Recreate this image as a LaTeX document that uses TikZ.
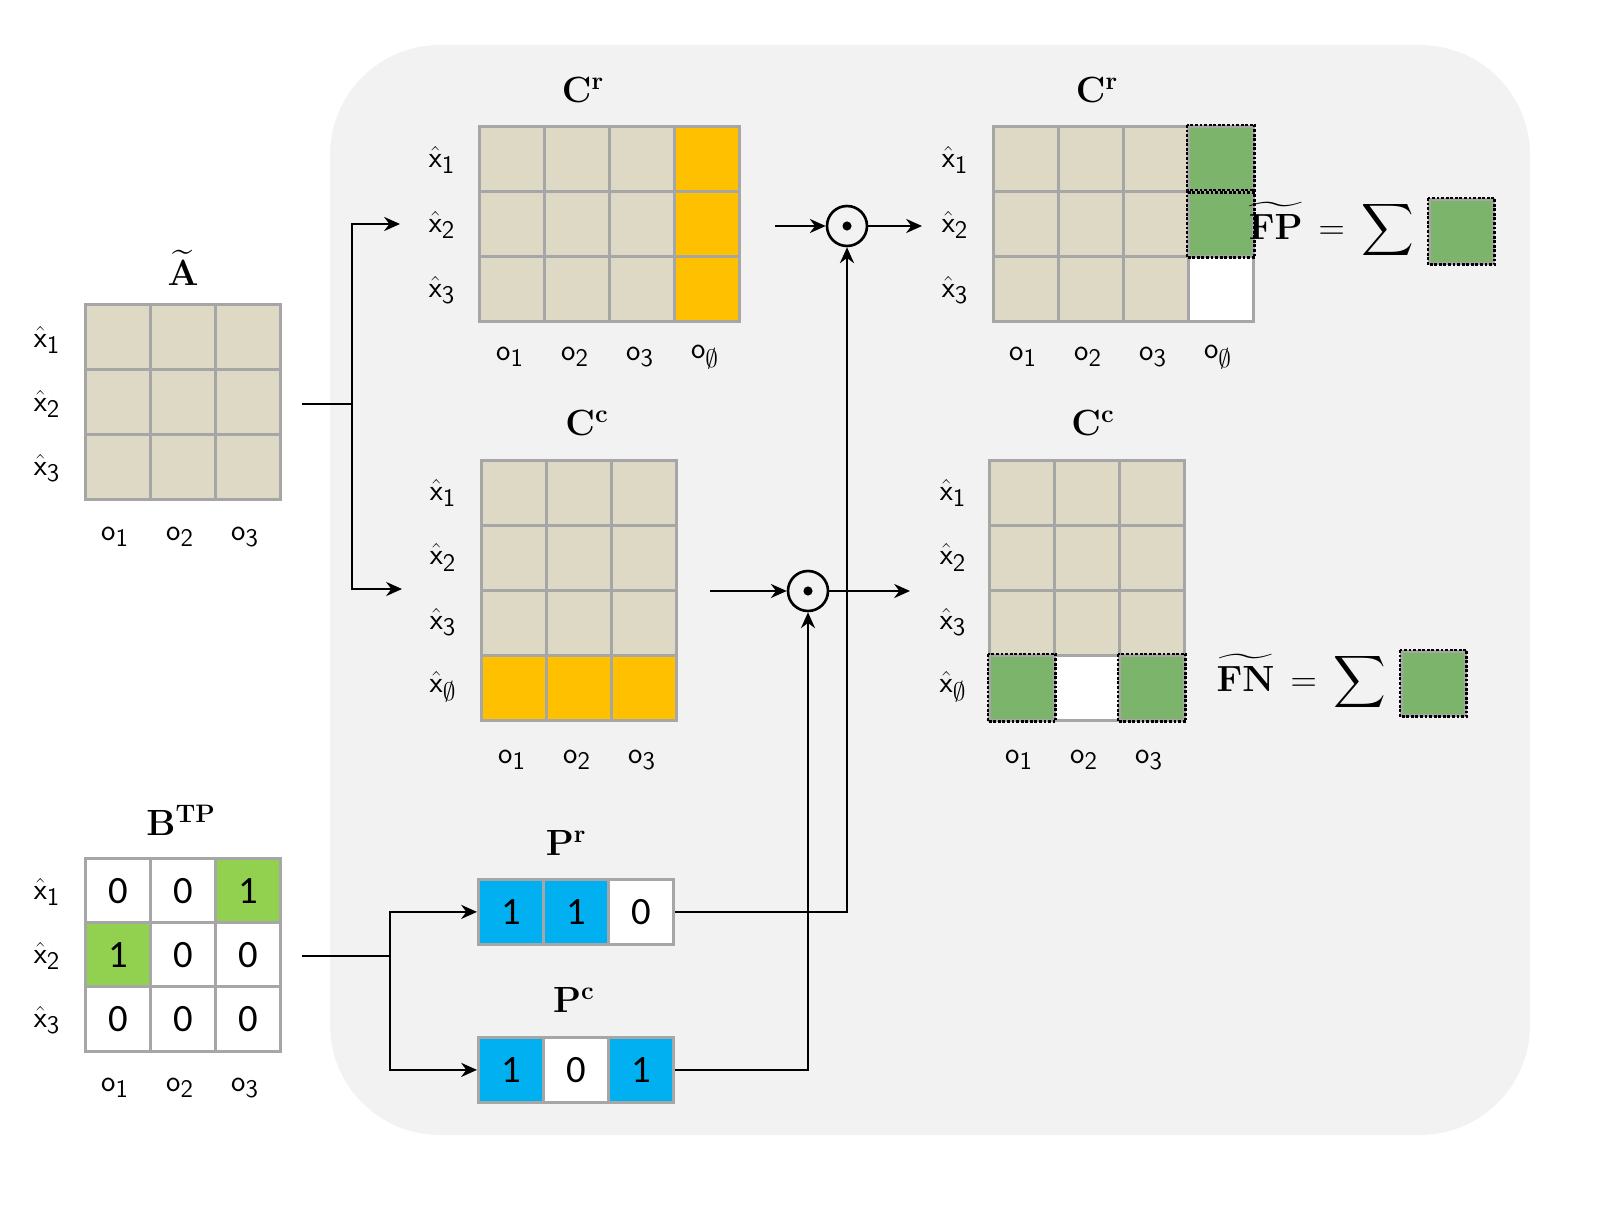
\documentclass[tikz,border=0pt]{standalone}
\usetikzlibrary{arrows.meta}
\usepackage{amsmath}
\usepackage[no-math]{fontspec}
\setmainfont{Carlito}
\definecolor{beige}{HTML}{DDD9C4}
\definecolor{org}{HTML}{FFC000}
\definecolor{grn}{HTML}{7DB46C}
\definecolor{lgrn}{HTML}{92D050}
\definecolor{blu}{HTML}{00B0F0}
\definecolor{gridc}{HTML}{A6A6A6}
\definecolor{bg}{HTML}{F2F2F2}
\newcommand{\xl}[1]{$\hat{\mathsf{x}}_{\mathsf{#1}}$}
\newcommand{\ol}[1]{$\mathsf{o}_{\mathsf{#1}}$}
\tikzset{
 cell/.style={draw=gridc,line width=1.6pt,minimum size=1.3cm,inner sep=0pt,font=\fontsize{22}{24}\selectfont,anchor=north west},
 dot/.style={draw=black,line width=1.6pt,densely dotted},
 lab/.style={font=\fontsize{19}{22}\selectfont},
 ttl/.style={font=\fontsize{21}{24}\selectfont},
 arr/.style={line width=1.3pt,-{Stealth[length=9pt,width=8pt]}},
 ln/.style={line width=1.3pt},
 od/.style={circle,draw,line width=1.5pt,minimum size=0.8cm,inner sep=0pt}
}
\newcommand{\cl}[5]{\node[cell,fill=#3] (#5) at (#1,#2) {#4};}
\begin{document}
\begin{tikzpicture}[x=0.02cm,y=-0.02cm]
\useasboundingbox (0,0) rectangle (1623,1213);
\fill[bg,rounded corners=2.2cm] (330,45) rectangle (1530,1135);
% A tilde
\foreach \r in {0,1,2}{\foreach \c in {0,1,2}{\cl{84+65*\c}{303+65*\r}{beige}{}{A\r\c}}}
\node[ttl] (At) at (183,268) {$\widetilde{\mathbf{A}}$};
\foreach \r/\t in {0/1,1/2,2/3}{\node[lab] (Ar\r) at (47,340+64*\r) {\xl{\t}};}
\foreach \c/\t in {0/1,1/2,2/3}{\node[lab] (Ac\c) at (115+65*\c,537) {\ol{\t}};}
% Cr left
\foreach \r in {0,1,2}{\foreach \c in {0,1,2}{\cl{478+65*\c}{125+65*\r}{beige}{}{R\r\c}}
 \cl{673}{125+65*\r}{org}{}{R\r3}}
\node[ttl] (Rt) at (583,90) {$\mathbf{C}^{\mathbf{r}}$};
\foreach \r/\t in {0/1,1/2,2/3}{\node[lab] (Rr\r) at (442,160+65*\r) {\xl{\t}};}
\foreach \c/\t in {0/1,1/2,2/3,3/\emptyset}{\node[lab] (Rc\c) at (510+65*\c,357) {\ol{\t}};}
% Cc left
\foreach \c in {0,1,2}{\foreach \r in {0,1,2}{\cl{480+65*\c}{459+65*\r}{beige}{}{C\r\c}}
 \cl{480+65*\c}{654}{org}{}{C3\c}}
\node[ttl] (Ct) at (587,423) {$\mathbf{C}^{\mathbf{c}}$};
\foreach \r/\t in {0/1,1/2,2/3,3/\emptyset}{\node[lab] (Cr\r) at (443,493+64.5*\r) {\xl{\t}};}
\foreach \c/\t in {0/1,1/2,2/3}{\node[lab] (Cc\c) at (512+65*\c,760) {\ol{\t}};}
% Cr right
\foreach \r in {0,1,2}{\foreach \c in {0,1,2}{\cl{992+65*\c}{125+65*\r}{beige}{}{S\r\c}}}
\cl{1187}{125}{grn}{}{S03}\cl{1187}{190}{grn}{}{S13}\cl{1187}{255}{white}{}{S23}
\draw[dot] (S03.north west) rectangle (S03.south east);
\draw[dot] (S13.north west) rectangle (S13.south east);
\node[ttl] (St) at (1097,90) {$\mathbf{C}^{\mathbf{r}}$};
\foreach \r/\t in {0/1,1/2,2/3}{\node[lab] (Sr\r) at (955,160+65*\r) {\xl{\t}};}
\foreach \c/\t in {0/1,1/2,2/3,3/\emptyset}{\node[lab] (Sc\c) at (1023+65*\c,357) {\ol{\t}};}
% Cc right
\foreach \c in {0,1,2}{\foreach \r in {0,1,2}{\cl{988+65*\c}{459+65*\r}{beige}{}{T\r\c}}}
\cl{988}{654}{grn}{}{T30}\cl{1053}{654}{white}{}{T31}\cl{1118}{654}{grn}{}{T32}
\draw[dot] (T30.north west) rectangle (T30.south east);
\draw[dot] (T32.north west) rectangle (T32.south east);
\node[ttl] (Tt) at (1093,423) {$\mathbf{C}^{\mathbf{c}}$};
\foreach \r/\t in {0/1,1/2,2/3,3/\emptyset}{\node[lab] (Tr\r) at (953,493+64.5*\r) {\xl{\t}};}
\foreach \c/\t in {0/1,1/2,2/3}{\node[lab] (Tc\c) at (1019+65*\c,760) {\ol{\t}};}
% FP FN
\node[ttl,anchor=east] (FP) at (1420,230) {$\widetilde{\mathbf{FP}}\,=\,\displaystyle\sum$};
\node[cell,fill=grn,minimum size=1.28cm] (FPs) at (1428,198) {};
\draw[dot] (FPs.north west) rectangle (FPs.south east);
\node[ttl,anchor=east] (FN) at (1392,682) {$\widetilde{\mathbf{FN}}\,=\,\displaystyle\sum$};
\node[cell,fill=grn,minimum size=1.28cm] (FNs) at (1400,650) {};
\draw[dot] (FNs.north west) rectangle (FNs.south east);
% BTP
\foreach \r/\va/\vb/\vc in {0/0/0/1,1/1/0/0,2/0/0/0}{
 \foreach \k/\v in {0/\va,1/\vb,2/\vc}{
  \ifnum\v=1 \cl{84+65*\k}{857+64*\r}{lgrn}{\v}{B\r\k}\else\cl{84+65*\k}{857+64*\r}{white}{\v}{B\r\k}\fi}}
\node[ttl] (Bt) at (181,820) {$\mathbf{B}^{\mathbf{TP}}$};
\foreach \r/\t in {0/1,1/2,2/3}{\node[lab] (Br\r) at (47,892+64*\r) {\xl{\t}};}
\foreach \c/\t in {0/1,1/2,2/3}{\node[lab] (Bc\c) at (115+65*\c,1088) {\ol{\t}};}
% Pr Pc
\cl{477}{878}{blu}{1}{P0}\cl{542}{878}{blu}{1}{P1}\cl{607}{878}{white}{0}{P2}
\node[ttl] (Pt) at (566,843) {$\mathbf{P}^{\mathbf{r}}$};
\cl{477}{1036}{blu}{1}{Q0}\cl{542}{1036}{white}{0}{Q1}\cl{607}{1036}{blu}{1}{Q2}
\node[ttl] (Qt) at (574,1000) {$\mathbf{P}^{\mathbf{c}}$};
% odots
\node[od] (o1) at (847,226) {}; \fill (o1) circle (2.6pt);
\node[od] (o2) at (808,591) {}; \fill (o2) circle (2.6pt);
% connectors
\coordinate (a0) at (302,404); \coordinate (a1) at (352,404);
\coordinate (a2) at (400,224); \coordinate (a3) at (402,589);
\draw[ln] (a0) -- (a1);
\draw[arr] (a1) |- (a2);
\draw[arr] (a1) |- (a3);
\coordinate (b0) at (775,226); \coordinate (b1) at (922,226);
\draw[arr] (b0) -- (o1); \draw[arr] (o1) -- (b1);
\coordinate (c0) at (710,591); \coordinate (c1) at (910,591);
\draw[arr] (c0) -- (o2); \draw[arr] (o2) -- (c1);
\coordinate (d0) at (302,956); \coordinate (d1) at (390,956);
\draw[ln] (d0) -- (d1);
\draw[arr] (d1) |- (P0.west);
\draw[arr] (d1) |- (Q0.west);
\draw[arr] (P2.east) -| (o1.south);
\draw[arr] (Q2.east) -| (o2.south);
\end{tikzpicture}
\end{document}
